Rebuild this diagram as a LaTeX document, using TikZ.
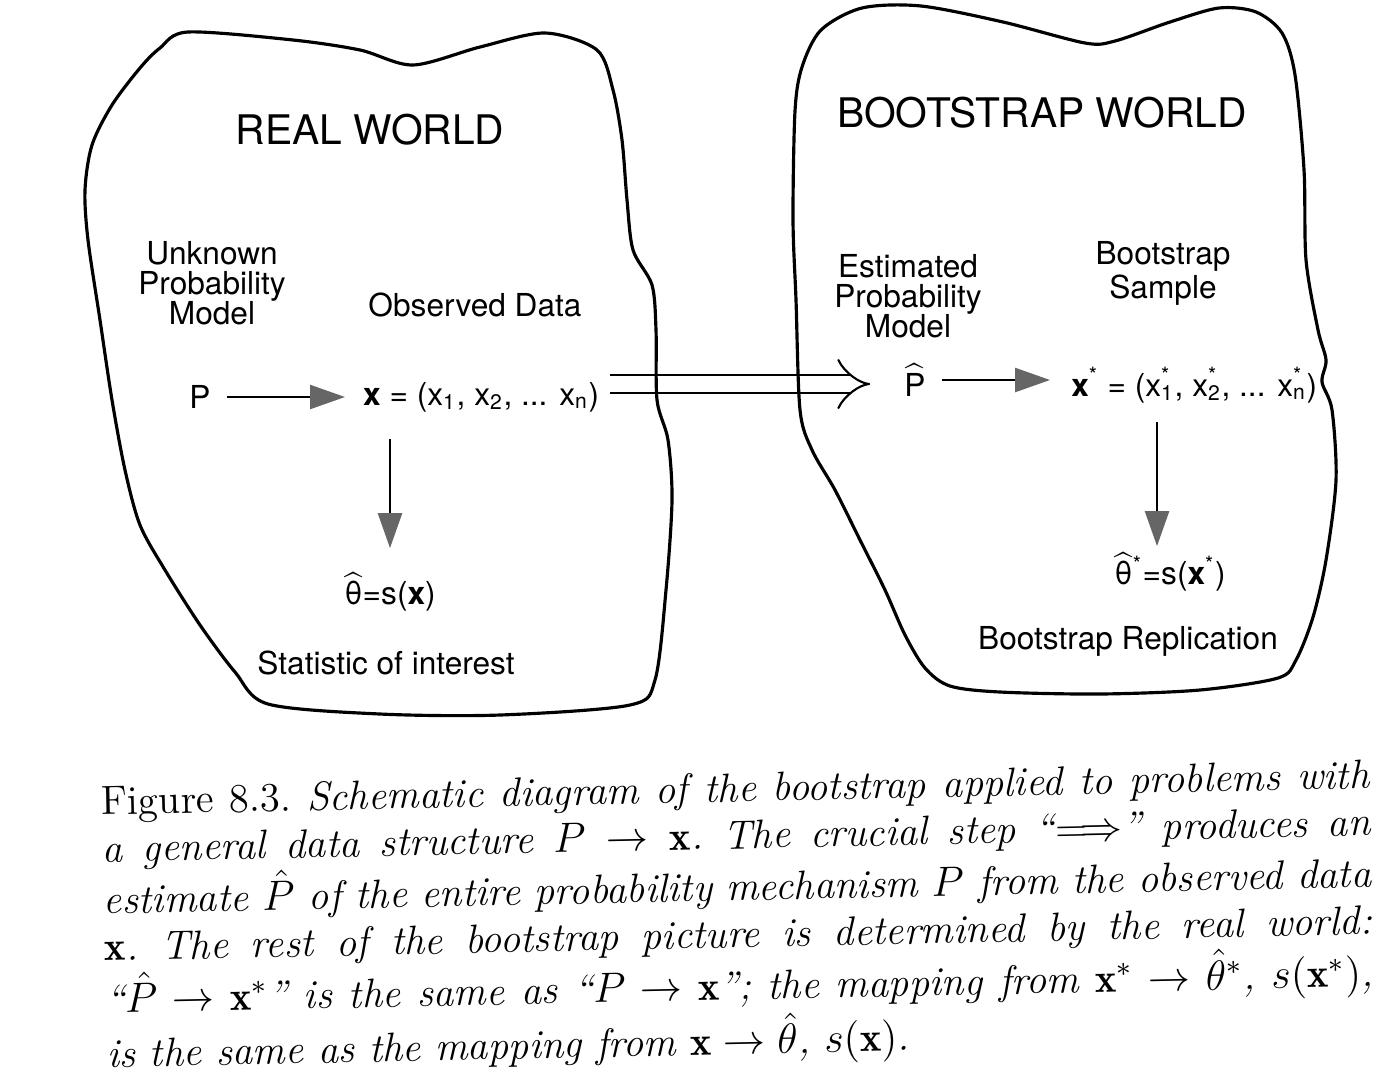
\documentclass[tikz,border=0pt]{standalone}
\usepackage{fontspec}
\setsansfont{TeX Gyre Heros}
\usepackage{amsmath}
\usetikzlibrary{arrows.meta}

\newcommand{\hatsf}[1]{$\widehat{\mbox{#1}}$}
\newcommand{\xsub}[2]{x\rlap{\textsuperscript{#1}}\textsubscript{#2}}

\begin{document}
\begin{tikzpicture}[x=0.1mm, y=-0.1mm, line width=0.7pt,
	>={Triangle[length=3.5mm,width=2.4mm,color=black!60]},
	world/.style={draw, line width=0.9pt},
	title/.style={font=\sffamily\fontsize{11.6}{12}\selectfont, inner sep=0pt},
	lab/.style={font=\sffamily\fontsize{9}{8.6}\selectfont, align=center, inner sep=0pt},
	bootarrow/.style={double, double distance=1.6mm, line width=0.6pt, -{Implies[length=2.5mm,width=6mm]}},
	caption/.style={font=\fontsize{11.6}{13.4}\selectfont\frenchspacing, text width=12.68cm, align=justify, inner sep=0pt}]
	\path [use as bounding box, fill=white] (0,0) rectangle (1400,1084);
	
	% Nodes {real world}
	\node [title] 				(realW)  at (370,130)  {REAL WORLD};
	\node [lab] 				(unkM)   at (212,283)  {Unknown\\Probability\\Model};
	\node [lab] 				(obsD)   at (475,305)  {Observed Data};
	\node [lab] 				(pL)     at (200,397)  {P};
	\node [lab, anchor=west] 	(xL)     at (362,397)  {\textbf{x} = (x\textsubscript{1}, x\textsubscript{2}, ... x\textsubscript{n})};
	\node [lab] 				(thL)    at (390,592)  {\hatsf{θ}=s(\textbf{x})};
	\node [lab] 				(statL)  at (386,663)  {Statistic of interest};
	
	% Nodes {bootstrap world}
	\node [title] 				(bootW)  at (1042,113) {BOOTSTRAP WORLD};
	\node [lab] 				(estM)   at (908,296)  {Estimated\\Probability\\Model};
	\node [lab] 				(bsS)    at (1163,273) {Bootstrap\\Sample};
	\node [lab] 				(PhR)    at (915,380)  {\hatsf{P}};
	\node [lab, anchor=west] 	(xR)     at (1070,385) {\textbf{x}\textsuperscript{*} = (\xsub{*}{1}, \xsub{*}{2}, ... \xsub{*}{n})};
	\node [lab] 				(thR)    at (1170,572) {\hatsf{θ}\textsuperscript{*}=s(\textbf{x}\textsuperscript{*})};
	\node [lab] 				(repR)   at (1128,641) {Bootstrap Replication};
	
	% Crucial step, drawn below the outlines
	\draw [bootarrow, shorten <=1mm, shorten >=3.3mm] ([yshift=1.3mm]xL.east) -- ([yshift=1.3mm]xL.east -| PhR.west);
	
	% Outlines
	\draw [world] plot [smooth cycle, tension=0.5] coordinates {(188,32) (293,40) (360,50) (413,65) (480,47) (545,33) (597,50) (613,90) (622,140) (627,200) (633,250) (652,285) (656,330) (657,400) (668,440) (672,500) (666,590) (655,680) (630,705) (500,715) (380,714) (268,704) (235,672) (200,625) (165,570) (140,525) (125,470) (112,400) (100,320) (88,240) (85,190) (92,145) (112,105) (140,68) (160,48)};
	\draw [world] plot [smooth cycle, tension=0.5] coordinates {(821,30) (862,8) (921,6) (1003,22) (1085,43) (1115,41) (1170,22) (1219,8) (1256,12) (1282,33) (1295,75) (1304,170) (1306,260) (1318,330) (1326,360) (1322,382) (1332,410) (1336,480) (1326,560) (1313,617) (1296,660) (1278,678) (1200,690) (1100,694) (1000,692) (950,686) (925,668) (905,635) (885,590) (860,540) (835,490) (812,450) (800,410) (796,300) (793,220) (795,111) (802,67)};
	
	% Paths
	\path [->] 	(pL) edge [shorten <=1.5mm, shorten >=1.7mm] (xL);
	\path [->] 	(xL.south -| thL.north) edge [shorten <=2.6mm, shorten >=2.3mm] (thL.north);
	\path [->] 	(PhR.east) edge [shorten <=1.5mm, shorten >=2mm] (PhR.east -| xR.west);
	\path [->] 	([xshift=-1.3mm]thR.north |- xR.south) edge [shorten <=1.8mm, shorten >=0.5mm] ([xshift=-1.3mm]thR.north);
	
	% Caption
	\node [caption, anchor=north west, rotate=1.2] (capT) at (100,785) {Figure 8.3. \textit{Schematic diagram of the bootstrap applied to problems with\linebreak a general data structure $P \rightarrow \mathbf{x}$. The crucial step ``$\Longrightarrow$'' produces an\linebreak estimate $\hat{P}$ of the entire probability mechanism $P$ from the observed data\linebreak $\mathbf{x}$. The rest of the bootstrap picture is determined by the real world:\linebreak ``$\hat{P} \rightarrow \mathbf{x}^*$'' is the same as ``$P \rightarrow \mathbf{x}$''; the mapping from $\mathbf{x}^* \rightarrow \hat{\theta}^*$, $s(\mathbf{x}^*)$,\linebreak is the same as the mapping from $\mathbf{x} \rightarrow \hat{\theta}$, $s(\mathbf{x})$.}};
	
\end{tikzpicture}
\end{document}
